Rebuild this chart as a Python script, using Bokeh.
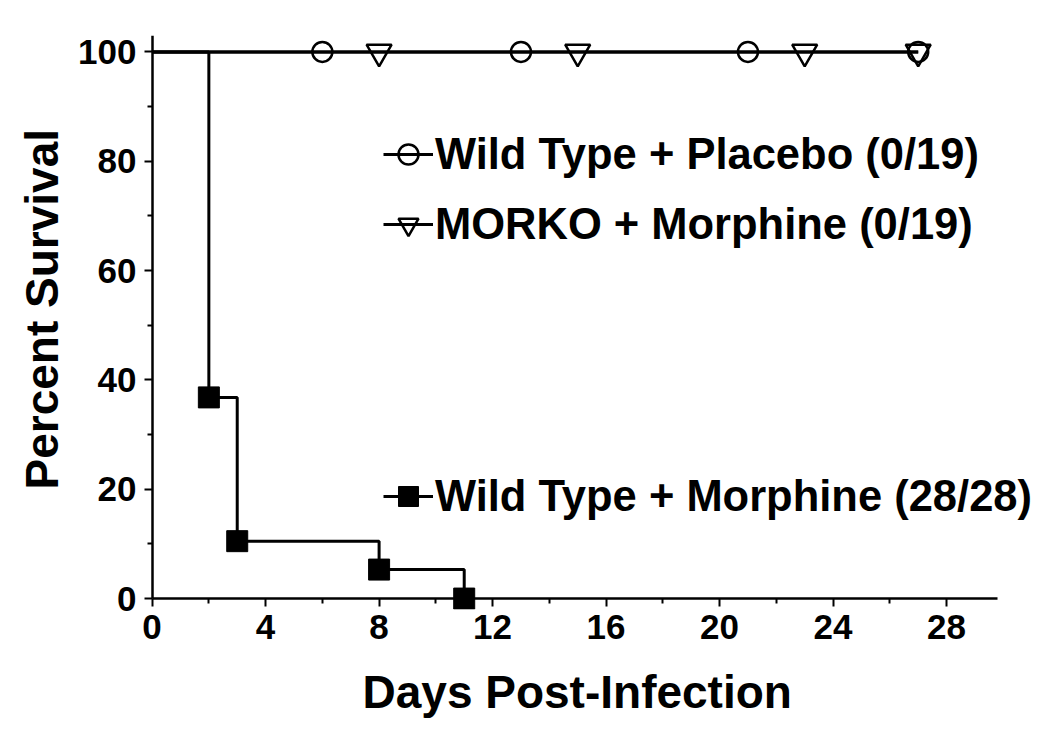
from bokeh.plotting import figure
from bokeh.models import FixedTicker, Legend, LegendItem, Range1d, LinearAxis, Title
from bokeh.embed import file_html
from bokeh.resources import INLINE

# ---- data ----
placebo_line_days = [0, 27]
placebo_line_pct = [100, 100]
placebo_mark_days = [6, 13, 21, 27]
placebo_mark_pct = [100, 100, 100, 100]

morko_line_days = [0, 27]
morko_line_pct = [100, 100]
morko_mark_days = [8, 15, 23, 27]
morko_mark_pct = [100, 100, 100, 100]

wt_morph_days = [0, 2, 3, 8, 11]
wt_morph_pct = [100, 36.8, 10.5, 5.3, 0]

x_major = [0, 4, 8, 12, 16, 20, 24, 28]
x_minor = [2, 6, 10, 14, 18, 22, 26]
y_major = [0, 20, 40, 60, 80, 100]
y_minor = [10, 30, 50, 70, 90]
x_axis_end = 29.8
y_axis_end = 103

x_title = "Days Post-Infection"
y_title = "Percent Survival"
labels = ["Wild Type + Placebo (0/19)", "MORKO + Morphine (0/19)", "Wild Type + Morphine (28/28)"]

FONT = "Liberation Sans"

p = figure(width=1042, height=740, x_range=Range1d(-0.55, 31.24), y_range=Range1d(-2, 103),
           output_backend="svg", toolbar_location=None,
           min_border_left=136, min_border_right=4, min_border_top=35, min_border_bottom=130)
p.outline_line_color = None
p.grid.visible = False
p.background_fill_color = "white"

# label-only axes at the frame edges
for ax in (p.xaxis, p.yaxis):
    ax.axis_line_color = None
    ax.major_tick_line_color = None
    ax.minor_tick_line_color = None
    ax.major_tick_in = 0
    ax.major_tick_out = 0
    ax.minor_tick_in = 0
    ax.minor_tick_out = 0
    ax.major_label_text_font = FONT
    ax.major_label_text_font_style = "bold"
    ax.major_label_text_font_size = "35px"
    ax.major_label_text_color = "black"

p.xaxis.ticker = FixedTicker(ticks=x_major, minor_ticks=[])
p.yaxis.ticker = FixedTicker(ticks=y_major, minor_ticks=[])
p.xaxis.major_label_standoff = 5
p.yaxis.major_label_standoff = 0

# axis titles, positioned along the drawn axes
for txt, side, off, so in ((x_title, "below", 226, 45), (y_title, "left", 120, 15)):
    t = Title(text=txt, align="left", offset=off, standoff=so)
    t.text_font = FONT
    t.text_font_style = "bold"
    t.text_font_size = "46px"
    t.text_color = "black"
    t.text_line_height = 1.0
    p.add_layout(t, side)


# line/tick axes fixed at the data origin (ticks only, no labels)
def line_axis(tick_positions, length, bounds, show_line):
    ax = LinearAxis(ticker=FixedTicker(ticks=[], minor_ticks=tick_positions))
    ax.fixed_location = 0
    ax.bounds = bounds
    ax.axis_line_width = 2.5
    ax.axis_line_color = "black" if show_line else None
    ax.major_tick_line_color = None
    ax.minor_tick_line_width = 2
    ax.minor_tick_line_color = "black"
    ax.major_tick_in = 0
    ax.major_tick_out = 0
    ax.minor_tick_in = length
    ax.minor_tick_out = 0
    ax.major_label_standoff = 0
    return ax


p.add_layout(line_axis(x_major, 8, (0, x_axis_end), True), "above")
p.add_layout(line_axis(x_minor, 5, (0, x_axis_end), False), "above")
p.add_layout(line_axis(y_major, 8, (0, y_axis_end), True), "right")
p.add_layout(line_axis(y_minor, 5, (0, y_axis_end), False), "right")

LW = 3
pl_line = p.line(placebo_line_days, placebo_line_pct, line_color="black", line_width=LW)
mo_line = p.line(morko_line_days, morko_line_pct, line_color="black", line_width=LW)
wt_line = p.step(wt_morph_days, wt_morph_pct, mode="after", line_color="black", line_width=LW)

pl_mark = p.scatter(placebo_mark_days, placebo_mark_pct, marker="circle", size=20,
                    fill_color="white", fill_alpha=0, line_color="black", line_width=2.5)
mo_mark = p.scatter(morko_mark_days, morko_mark_pct, marker="inverted_triangle", size=25,
                    fill_color="white", fill_alpha=0, line_color="black", line_width=2.5)
wt_mark = p.scatter(wt_morph_days[1:], wt_morph_pct[1:], marker="square", size=21,
                    fill_color="black", line_color="black", line_width=1)


def make_legend(items, loc, spacing):
    lg = Legend(items=items, location=loc, orientation="vertical")
    lg.label_text_font = FONT
    lg.label_text_font_style = "bold"
    lg.label_text_font_size = "43.5px"
    lg.label_text_color = "black"
    lg.glyph_width = 50
    lg.glyph_height = 50
    lg.label_height = 50
    lg.label_standoff = 2
    lg.spacing = spacing
    lg.padding = 0
    lg.margin = 0
    lg.border_line_alpha = 0
    lg.background_fill_alpha = 0
    return lg


leg1 = make_legend([LegendItem(label=labels[0], renderers=[pl_line, pl_mark]),
                    LegendItem(label=labels[1], renderers=[mo_line, mo_mark])], (247, 360), 20)
leg2 = make_legend([LegendItem(label=labels[2], renderers=[wt_line, wt_mark])], (247, 88), 0)
p.add_layout(leg1, "center")
p.add_layout(leg2, "center")

open("out.html", "w").write(file_html(p, INLINE))
